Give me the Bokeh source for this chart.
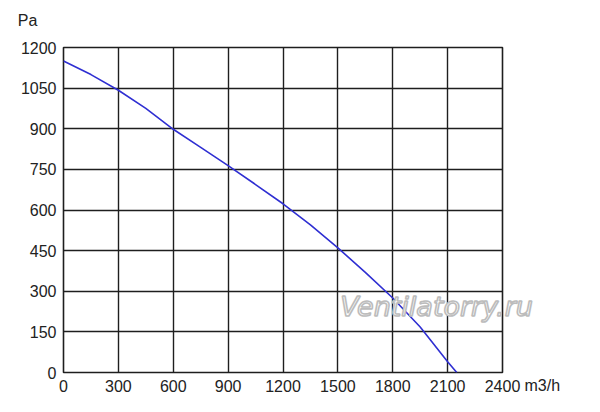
from bokeh.plotting import figure
from bokeh.models import FixedTicker, Label
from bokeh.embed import file_html
from bokeh.resources import INLINE

# fan curve
airflow = [0, 150, 300, 450, 600, 750, 900, 1050, 1200, 1350, 1500, 1650, 1800, 1950, 2100, 2150]
pressure = [1150, 1100, 1042, 975, 898, 831, 764, 694, 623, 545, 460, 370, 275, 168, 40, 0]
x_ticks = [0, 300, 600, 900, 1200, 1500, 1800, 2100, 2400]
y_ticks = [0, 150, 300, 450, 600, 750, 900, 1050, 1200]

FONT = "Liberation Sans"

p = figure(width=584, height=400, x_range=(0, 2400), y_range=(0, 1200),
           output_backend="svg", toolbar_location=None,
           min_border_left=63, min_border_right=82, min_border_top=47, min_border_bottom=28)
p.background_fill_color = "white"
p.border_fill_color = "white"
p.outline_line_color = "#1e1e1e"
p.outline_line_width = 1.6

for ax, ticks in ((p.xaxis, x_ticks), (p.yaxis, y_ticks)):
    ax.ticker = FixedTicker(ticks=ticks)
    ax.axis_line_color = None
    ax.major_tick_line_color = None
    ax.minor_tick_line_color = None
    ax.major_tick_out = 0
    ax.major_tick_in = 0
    ax.major_label_text_font = FONT
    ax.major_label_text_font_size = "16px"
    ax.major_label_text_color = "#222222"
p.xaxis.major_label_standoff = 7
p.yaxis.major_label_standoff = 7

p.xgrid.ticker = FixedTicker(ticks=x_ticks)
p.ygrid.ticker = FixedTicker(ticks=y_ticks)
for g in (p.xgrid, p.ygrid):
    g.grid_line_color = "#1e1e1e"
    g.grid_line_width = 1.4
    g.grid_line_alpha = 1.0

p.line(airflow, pressure, line_color="#2f2fd2", line_width=1.6)

# labels live in the side panels, so they are not clipped to the frame
# (screen units, counted from each panel's lower left corner)
p.add_layout(Label(x=-475, y=352, x_units="screen", y_units="screen", text="Pa",
                   text_font=FONT, text_font_size="16px", text_color="#222222",
                   text_align="center", text_baseline="middle"), "right")
p.add_layout(Label(x=2, y=-13, x_units="screen", y_units="screen", text="m3/h",
                   text_font=FONT, text_font_size="16px", text_color="#222222",
                   text_align="left", text_baseline="middle"), "right")

# watermark: white italic text with a grey outline
p.add_layout(Label(x=373, y=-259, x_units="screen", y_units="screen",
                   text="Ventilatorry.ru", text_font="DejaVu Sans", text_font_style="italic",
                   text_font_size="27px", text_color="white",
                   text_outline_color="#bcbcbc",
                   text_align="center", text_baseline="middle"), "above")

open("out.html", "w").write(file_html(p, INLINE))
